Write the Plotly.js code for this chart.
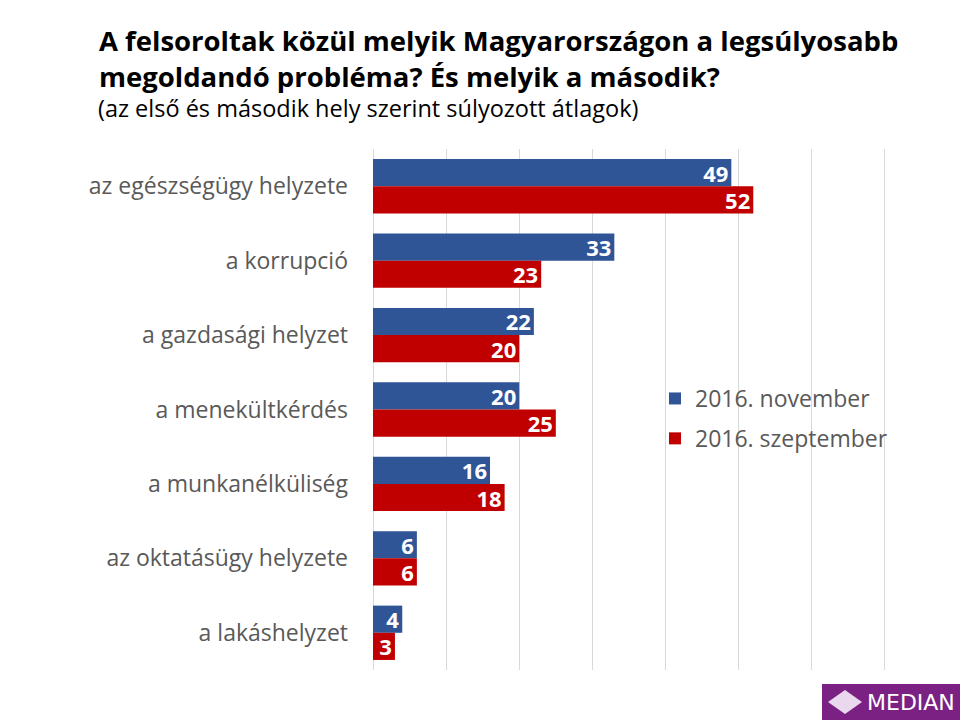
<!DOCTYPE html>
<html><head><meta charset="utf-8">
<script src="https://cdn.plot.ly/plotly-3.0.1.min.js"></script>
<style>body{margin:0;padding:0;background:#fff}#chart{width:960px;height:720px}</style>
</head><body><div id="chart"></div>
<script>
const categories = ["az egészségügy helyzete","a korrupció","a gazdasági helyzet","a menekültkérdés","a munkanélküliség","az oktatásügy helyzete","a lakáshelyzet"];
const november = [49,33,22,20,16,6,4];
const september = [52,23,20,25,18,6,3];
const seriesNames = ["2016. november","2016. szeptember"];
const FONT = "'Open Sans', sans-serif";

const PW = 960-373-74, PH = 670-149;
const px = v => (v-373)/PW;
const py = v => (670-v)/PH;

const mk = (vals, name, color, grp) => ({
  type:'bar', orientation:'h', y:categories, x:vals, name:name, legendgroup:grp,
  marker:{color:color}, text:vals.map(String), textposition:'inside', insidetextanchor:'end', textangle:0,
  constraintext:'none',
  textfont:{color:'#ffffff', size:22, family:FONT, weight:700}, cliponaxis:false,
  hoverinfo:'none'
});
const data = [mk(november, seriesNames[0], '#2F5597', 'a'), mk(september, seriesNames[1], '#C00000', 'b')];

const layout = {
  width:960, height:720, paper_bgcolor:'#fff', plot_bgcolor:'#fff',
  margin:{l:373, r:74, t:149, b:50},
  barmode:'group', bargap:0.27, bargroupgap:0,
  font:{family:FONT, color:'#595959'},
  xaxis:{range:[0,70.15], tick0:0, dtick:10, showticklabels:false, showgrid:true, gridcolor:'#d9d9d9', gridwidth:1, zeroline:true, zerolinecolor:'#d9d9d9', fixedrange:true},
  yaxis:{autorange:'reversed', tickfont:{size:23, color:'#595959', family:FONT}, ticks:'', ticklabelstandoff:24, showgrid:false, zeroline:false},
  showlegend:true,
  legend:{x:px(655), xanchor:'left', y:py(377), yanchor:'top', font:{size:23, color:'#595959', family:FONT}, bgcolor:'rgba(0,0,0,0)', itemwidth:30, traceorder:'grouped', tracegroupgap:7},
  annotations:[
    {xref:'paper', yref:'paper', x:px(97), y:py(20), xanchor:'left', yanchor:'top', align:'left', showarrow:false,
     text:'<b>A felsoroltak közül melyik Magyarországon a legsúlyosabb<br>megoldandó probléma? És melyik a második?</b>',
     font:{size:27.5, color:'#000000', family:FONT}},
    {xref:'paper', yref:'paper', x:px(96), y:py(90), xanchor:'left', yanchor:'top', align:'left', showarrow:false,
     text:'(az első és második hely szerint súlyozott átlagok)', font:{size:23.5, color:'#000000', family:FONT}},
    {xref:'paper', yref:'paper', x:px(865), y:py(702), xanchor:'left', yanchor:'middle', showarrow:false,
     text:'MEDIAN', font:{size:22, color:'#ffffff', family:"'DejaVu Sans', sans-serif"}}
  ],
  shapes:[
    {type:'rect', xref:'paper', yref:'paper', x0:px(822), x1:px(960), y0:py(720), y1:py(684), fillcolor:'#7B2183', line:{width:0}, layer:'above'},
    {type:'path', xref:'paper', yref:'paper', path:'M '+px(828)+','+py(702)+' L '+px(845)+','+py(690)+' L '+px(862)+','+py(702)+' L '+px(845)+','+py(714)+' Z', fillcolor:'#e9d8ee', line:{width:0}, layer:'above'}
  ]
};
Plotly.newPlot('chart', data, layout, {staticPlot:true});
</script></body></html>
